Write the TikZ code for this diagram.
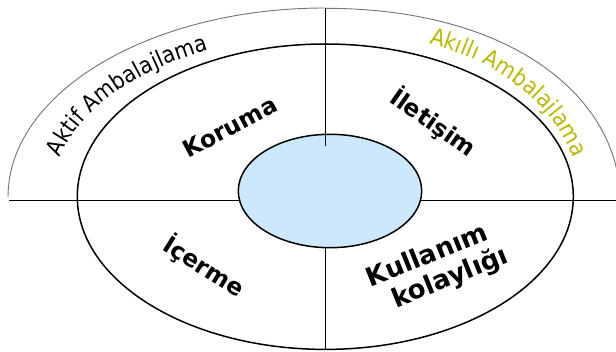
\documentclass[tikz,border=0pt]{standalone}
\usepackage{fontspec}
\setmainfont{DejaVu Sans}
\newfontfamily\arcfont[FakeStretch=0.9]{DejaVu Sans}
\usetikzlibrary{decorations.text}
\definecolor{innerblue}{RGB}{204,232,252}
\definecolor{akilli}{RGB}{185,185,0}
\begin{document}
\begin{tikzpicture}[x=1pt,y=1pt,
  frame/.style={line width=1.5pt,black},
  outerarc/.style={line width=0.9pt,black!55},
  seg/.style={font=\bfseries\fontsize{23.5}{27}\selectfont,align=center,inner sep=0pt}]
\useasboundingbox (0,0) rectangle (616,351);
\clip (0,0) rectangle (616,351);
% outer arcs
\draw[outerarc] (8,154) arc[start angle=180,end angle=90,x radius=317,y radius=189];
\draw[outerarc] (325,342.7) .. controls (515,342.7) and (620,251) .. (620,151);
% cross lines and middle ellipse
\draw[frame] (9,150.5) -- (616,150.5);
\draw[frame] (325.3,154.3) ellipse[x radius=248,y radius=152.7];
\draw[frame] (325.7,103.3) -- (325.7,1.6);
\draw[frame,fill=innerblue] (330,160) ellipse[x radius=91.7,y radius=56.7];
\draw[frame] (325.7,342.7) -- (325.7,205.3);
% curved labels
\path[decorate,decoration={text along path,text color=black,
  text={|\arcfont\fontsize{23}{23}\selectfont|Aktif Ambalajlama}}]
  (60.1,193.3) arc[start angle=166,end angle=80,x radius=273,y radius=162.5];
\path[decorate,decoration={text along path,text color=akilli,
  text align={left indent=105pt},
  text={|\arcfont\fontsize{23}{23}\selectfont|Akıllı Ambalajlama}}]
  (325,319.7) .. controls (492,319.7) and (584.6,239) .. (584.6,130);
% segment labels
\node[seg,rotate=28] (koruma) at (230,224) {Koruma};
\node[seg,rotate=-35] (iletisim) at (433.5,228.5) {İletişim};
\node[seg,rotate=-32] (icerme) at (204,84.5) {İçerme};
\node[seg,font=\bfseries\fontsize{26}{29}\selectfont,rotate=22] (kullanim) at (433,81) {Kullanım\\\hspace*{26pt}kolaylığı};
\end{tikzpicture}
\end{document}
